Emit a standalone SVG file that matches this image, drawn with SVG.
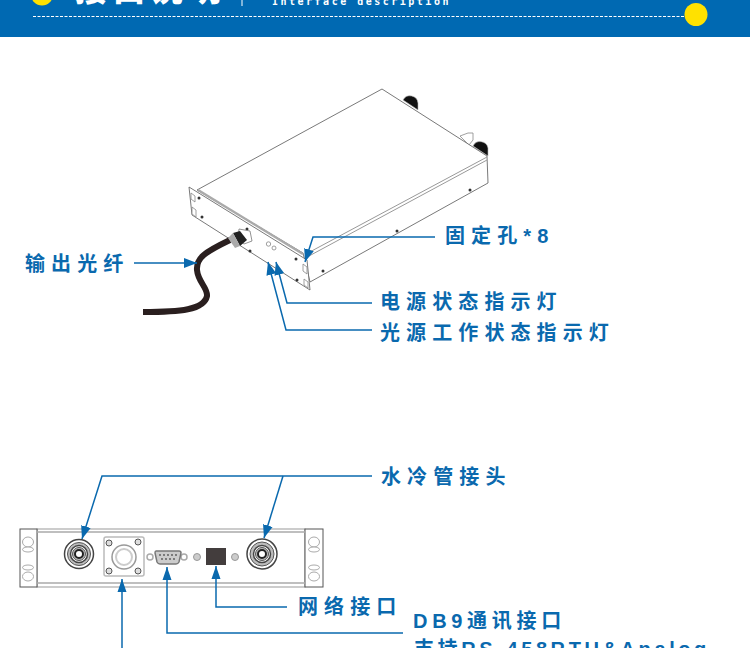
<svg xmlns="http://www.w3.org/2000/svg" width="750" height="648" viewBox="0 0 750 648">
<defs>
<style>
.lbl{font-family:"Liberation Sans","Noto Sans CJK SC",sans-serif;font-weight:700;font-size:20px;letter-spacing:6.100px;fill:#0a69ae}
.con{fill:none;stroke:#0a69ae;stroke-width:1.5}
.dev{fill:#fff;stroke:#6a6a6a;stroke-width:.9}
.thin{fill:#fff;stroke:#888;stroke-width:.8}
.hole{fill:#333}
.r1{fill:#fff;stroke:#444;stroke-width:1.500}
.r2{fill:#bbb;stroke:#555;stroke-width:1}
.r3{fill:#fff;stroke:#222;stroke-width:2}
.ear{fill:#fff;stroke:#aaa;stroke-width:1}
</style>
<marker id="arr" markerUnits="userSpaceOnUse" markerWidth="14" markerHeight="11" refX="13" refY="5.500" orient="auto"><path d="M0 .5L13 5.500L0 10.500Z" fill="#0a69ae"/></marker>
</defs>
<g id="header">
<rect width="750" height="37" fill="#0069b2"/>
<circle cx="42" cy="-5.500" r="11" fill="#ffe100"/>
<text x="75" y="1" font-family="'Noto Sans CJK SC',sans-serif" font-weight="900" font-size="32" letter-spacing="6" fill="#fff">接口说明</text>
<rect x="241.500" y="0" width="1" height="6" fill="#fff"/>
<text x="272" y="5" font-family="'DejaVu Sans Mono',monospace" font-weight="700" font-size="10" letter-spacing="2.500" fill="#fff">Interface description</text>
<line x1="33" y1="16.500" x2="684" y2="16.500" stroke="#fff" stroke-width="1" stroke-dasharray="3 1.500"/>
<ellipse cx="696" cy="14.500" rx="11.500" ry="11.500" fill="#ffe100"/>
</g>
<g id="device-iso">
<path d="M403 100a8 8 0 0 1 15 3l0 7Z" fill="#111" stroke="#bbb" stroke-width=".6"/>
<path class="thin" d="M460 136l8-3 5 0 0 7-4 5Z"/>
<path d="M473 146a8 8 0 0 1 15 2l0 8Z" fill="#111" stroke="#bbb" stroke-width=".6"/>
<path class="dev" d="M197 190L382 89L487 156L488 183L310 282L303 253Z"/>
<path d="M306 254L487 157M309 256L487 160" fill="none" stroke="#999"/>
<path class="dev" d="M189 187L307 260L310 290L192 215Z"/>
<path d="M198 190L303 254" stroke="#aaa" stroke-width="2.500" fill="none"/>
<g class="hole"><circle cx="199" cy="198" r="1.500"/><circle cx="202" cy="217" r="1.500"/><circle cx="247" cy="229" r="1.500"/><circle cx="250" cy="251" r="1.500"/><circle cx="296" cy="259" r="1.500"/><circle cx="297" cy="280" r="1.500"/><circle cx="323" cy="271" r="1.500"/><circle cx="397" cy="231" r="1.500"/><circle cx="470" cy="190" r="1.500"/></g>
<path class="thin" d="M191 193l4 3v6l-4-3zM192 207l4 3v7l-4-3zM303 264l4 3v7l-4-3zM304 279l4 3v6l-4-3z"/>
<circle cx="268.500" cy="244" r="2.200" class="thin"/><circle cx="274" cy="248" r="2" class="thin"/>
<path d="M239 229l11 2 2 10-8 3-6-4Z" fill="#fff" stroke="#777" stroke-width=".8"/>
</g>
<g id="cable">
<path d="M230 240C205 252 196 258 197 270C198 282 208 288 207 296C204 310 180 312 143 312" fill="none" stroke="#2a1f1f" stroke-width="6"/>
<path d="M233 233L240 231L247 240L240 246Z" fill="#222"/>
<path d="M228 238L233 233L240 246L235 248Z" fill="#aaa"/>
</g>
<g id="device-front">
<rect x="37" y="529" width="268" height="58" fill="#fff" stroke="#999"/>
<rect x="20" y="529" width="17" height="58" fill="#fff" stroke="#555"/>
<rect x="305" y="529" width="18" height="58" fill="#fff" stroke="#555"/>
<path d="M37 532H305M37 583H305" stroke="#aaa" stroke-width="1.500" fill="none"/>
<g class="ear"><ellipse cx="28" cy="542" rx="5.500" ry="5"/><ellipse cx="28" cy="549.500" rx="5.500" ry="2.500"/><ellipse cx="28" cy="567.500" rx="5.500" ry="2.500"/><ellipse cx="28" cy="576.500" rx="5.500" ry="4.500"/><ellipse cx="314" cy="542" rx="5.500" ry="5"/><ellipse cx="314" cy="549.500" rx="5.500" ry="2.500"/><ellipse cx="314" cy="567.500" rx="5.500" ry="2.500"/><ellipse cx="314" cy="576.500" rx="5.500" ry="4.500"/></g>
<circle class="r1" cx="79" cy="554" r="14.500"/><circle class="r2" cx="79" cy="554" r="11.500"/><circle class="r1" cx="79" cy="554" r="8.500"/><circle class="r2" cx="79" cy="554" r="6.500"/><circle class="r3" cx="79" cy="554" r="4"/>
<circle class="r1" cx="262" cy="554" r="15"/><circle class="r2" cx="262" cy="554" r="12"/><circle class="r1" cx="262" cy="554" r="8.500"/><circle class="r2" cx="262" cy="554" r="6.500"/><circle class="r3" cx="262" cy="554" r="4"/>
<rect x="104" y="537" width="40" height="39" rx="2" fill="#fff" stroke="#bbb" stroke-width="1.500"/>
<circle cx="124" cy="557" r="12" fill="#fff" stroke="#999" stroke-width="1.500"/><circle cx="124" cy="557" r="8" fill="#fff" stroke="#ccc" stroke-width="2"/>
<g fill="#ddd" stroke="#555"><circle cx="109" cy="543" r="3"/><circle cx="138" cy="542" r="3"/><circle cx="109" cy="571" r="3"/><circle cx="138" cy="571" r="3"/></g>
<g fill="#fff" stroke="#aaa" stroke-width="1.500"><circle cx="150" cy="557" r="3"/><circle cx="184" cy="557" r="3"/></g>
<path d="M156 551Q155 551 155 553L157 562Q158 564 160 564H176Q178 564 179 562L181 553Q181 551 179 551Z" fill="#ccc" stroke="#777" stroke-width="1.500"/>
<g fill="#555"><circle cx="160" cy="555" r=".9"/><circle cx="164" cy="555" r=".9"/><circle cx="168" cy="555" r=".9"/><circle cx="172" cy="555" r=".9"/><circle cx="176" cy="555" r=".9"/><circle cx="162" cy="559" r=".9"/><circle cx="166" cy="559" r=".9"/><circle cx="170" cy="559" r=".9"/><circle cx="174" cy="559" r=".9"/></g>
<circle cx="197" cy="557" r="3.500" fill="#ccc" stroke="#999"/><circle cx="235" cy="557" r="3.500" fill="#ccc" stroke="#999"/>
<rect x="206" y="548" width="20" height="17" fill="#433d3d"/>
</g>
<g id="connectors">
<path class="con" d="M134 263H197" marker-end="url(#arr)"/>
<path class="con" d="M435 237H313L305 262" marker-end="url(#arr)"/>
<path class="con" d="M372 303H287L276 262" marker-end="url(#arr)"/>
<path class="con" d="M372 330H286L268 262" marker-end="url(#arr)"/>
<path class="con" d="M372 476H102L82 539" marker-end="url(#arr)"/>
<path class="con" d="M283 476L264 538" marker-end="url(#arr)"/>
<path class="con" d="M216 566V607H287"/>
<path class="con" d="M167 567V633H403"/>
<path class="con" d="M122 579V648"/>
<path d="M216 566L211.500 579H220.500ZM167 567L162.500 580H171.500ZM122 579L117.500 592H126.500Z" fill="#0a69ae"/>
</g>
<g id="labels">
<text class="lbl" x="25" y="271">输出光纤</text>
<text class="lbl" x="445" y="243">固定孔*8</text>
<text class="lbl" x="380" y="309">电源状态指示灯</text>
<text class="lbl" x="380" y="340">光源工作状态指示灯</text>
<text class="lbl" x="381" y="484">水冷管接头</text>
<text class="lbl" x="298" y="614">网络接口</text>
<text class="lbl" x="413" y="628" style="letter-spacing:4.700px">DB9通讯接口</text>
<text class="lbl" x="414" y="656" style="letter-spacing:3.600px">支持RS-458RTU&amp;Analog</text>
</g>
</svg>
